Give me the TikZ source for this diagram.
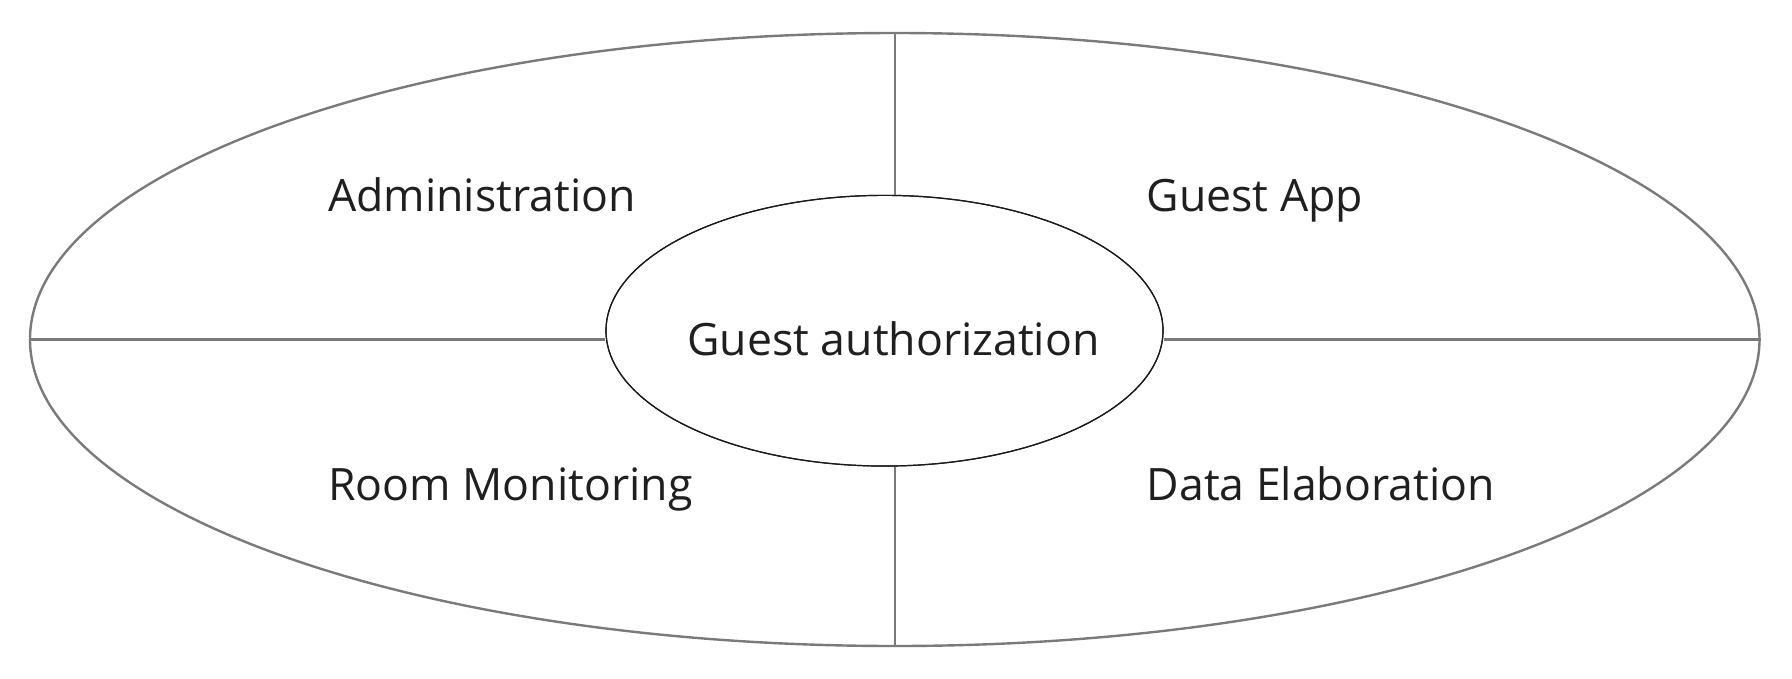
\documentclass[tikz,border=0pt]{standalone}
\usepackage{fontspec}
\setmainfont{Open Sans}
\usetikzlibrary{shapes.geometric}
\definecolor{outergray}{HTML}{7A7A7A}
\definecolor{innerblack}{HTML}{1A1A1A}
\definecolor{textdark}{HTML}{1F1F1F}
\tikzset{
  outerring/.style={draw=outergray, line width=2.4pt, ellipse, inner sep=0pt,
    minimum width=1729.5pt, minimum height=613pt},
  innerring/.style={draw=innerblack, line width=1.2pt, ellipse, inner sep=0pt,
    minimum width=557pt, minimum height=270.7pt},
  divider/.style={draw=outergray, line width=2.4pt},
  areatext/.style={inner sep=0pt, text=textdark, font=\fontsize{44.6}{54}\selectfont}
}
\begin{document}
\begin{tikzpicture}[x=1pt,y=-1pt]
\useasboundingbox (0,0) rectangle (1792,678);
\node[outerring] (outer) at (894.75,339.5) {};
\node[innerring, fill=white] (inner) at (884.5,330.7) {};
\draw[divider] (outer.west) -- (inner.west |- outer.west);
\draw[divider] (outer.east) -- (inner.east |- outer.east);
\draw[divider] (outer.north) -- (outer.north |- inner.north);
\draw[divider] (outer.south) -- (outer.south |- inner.south);
\node[innerring] (innerline) at (inner.center) {};
\node[areatext, anchor=base west] (admin) at (328,211.7) {Administration};
\node[areatext, anchor=base west] (guestapp) at (1146.5,211.7) {Guest App};
\node[areatext, anchor=base west] (room) at (328,500.7) {Room Monitoring};
\node[areatext, anchor=base west] (data) at (1146.5,500.7) {Data Elaboration};
\node[areatext, anchor=base] (auth) at (893.5,355.5) {Guest authorization};
\end{tikzpicture}
\end{document}
